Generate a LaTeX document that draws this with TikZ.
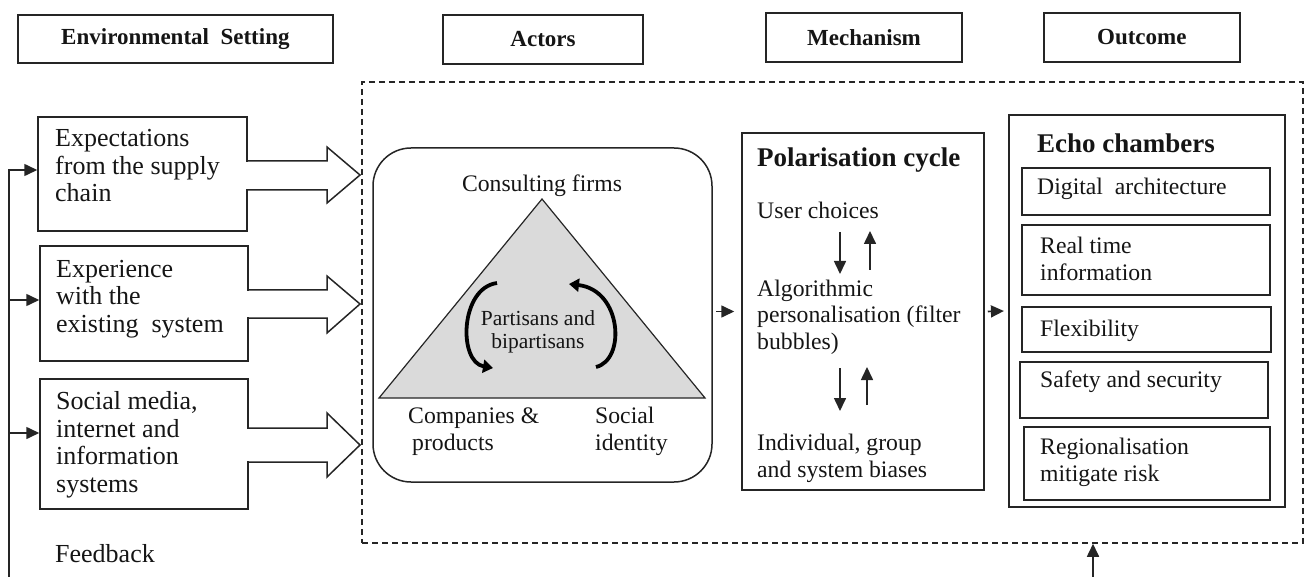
\documentclass[tikz,border=0pt]{standalone}
\usepackage{fontspec}
\setmainfont{Liberation Serif}
\usetikzlibrary{arrows.meta,calc}
\definecolor{ln}{HTML}{252525}
\definecolor{tx}{HTML}{151515}
\definecolor{tri}{HTML}{DADADA}
\begin{document}
\begin{tikzpicture}[x=1pt,y=-1pt,
  every node/.style={inner sep=0pt, text=tx},
  box/.style={draw=ln, line width=1.5pt, rectangle},
  hdr/.style={box, line width=1.8pt, font=\fontsize{23}{26}\selectfont\bfseries},
  ltext/.style={anchor=base west, align=left, font=\fontsize{26}{27.5}\selectfont},
  mtext/.style={anchor=base west, align=left, font=\fontsize{23.7}{26.5}\selectfont},
  ttl/.style={anchor=base west, font=\fontsize{27}{30}\selectfont\bfseries},
  arr/.style={draw=ln, line width=1.6pt, -{Triangle[length=13pt,width=12pt]}},
  blk/.style={draw=ln, line width=1.5pt, line join=miter},
  curv/.style={draw=black, line width=3.8pt, -{Triangle[length=10pt,width=13pt]}},
]
\useasboundingbox (0,0) rectangle (1306,577);

% headers
\node[hdr, minimum width=315pt, minimum height=48pt] (hEnv) at (175.4,39.3) {Environmental\ \ Setting};
\node[hdr, minimum width=200pt, minimum height=49pt] (hAct) at (543,39.5) {Actors};
\node[hdr, minimum width=196pt, minimum height=49pt] (hMec) at (864,37.8) {Mechanism};
\node[hdr, minimum width=196pt, minimum height=49pt] (hOut) at (1141.8,37.5) {Outcome};

% dashed frame
\node[draw=ln, line width=1.5pt, dash pattern=on 6pt off 4pt, minimum width=941pt, minimum height=461pt] (frame) at (832.5,312.5) {};

% left boxes
\node[box, minimum width=209pt, minimum height=114pt] (box1) at (142.5,174) {};
\node[box, minimum width=208pt, minimum height=115pt] (box2) at (144,303.5) {};
\node[box, minimum width=208pt, minimum height=130pt] (box3) at (144,444) {};

% block arrows
\fill[white] (245.5,161.8) rectangle (249.5,189.2);
\draw[blk] (247,161) -- (327,161) -- (327,147) -- (360,175) -- (327,203) -- (327,190) -- (247,190);
\fill[white] (246.5,290.8) rectangle (250.5,317.2);
\draw[blk] (248,290) -- (327,290) -- (327,276) -- (360,304) -- (327,333) -- (327,318) -- (248,318);
\fill[white] (246.5,428.8) rectangle (250.5,461.2);
\draw[blk] (248,428) -- (327,428) -- (327,413) -- (360,445) -- (327,477) -- (327,462) -- (248,462);

% (base anchor of a multi-line node = baseline of its last line)
\node[ltext] (t1) at (55,202) {Expectations\\from the supply\\chain};
\node[ltext] (t2) at (56,332) {Experience\\with the\\existing\ \ system};
\node[ltext] (t3) at (56,492) {Social media,\\internet and\\information\\systems};
\node[ltext] (fb) at (55,562) {Feedback};

% feedback line
\coordinate (fbot) at (9,580);
\coordinate (f1) at (9,170);
\coordinate (f2) at (9,300);
\coordinate (f3) at (9,433);
\draw[arr] (fbot) -- (f1) -- (f1 -| box1.west);
\draw[arr] (f2) -- (f2 -| box2.west);
\draw[arr] (f3) -- (f3 -| box3.west);

% actors
\node[box, rounded corners=38pt, minimum width=339pt, minimum height=334pt] (actors) at (542.5,315) {};
\coordinate (ta) at (542,199);
\coordinate (tl) at (379,398);
\coordinate (tr) at (705,398);
\draw[draw=ln, fill=tri, line width=1.2pt, line join=miter] (ta) -- (tl) -- (tr) -- cycle;
\node[mtext, anchor=base] (cf) at (542,192) {Consulting firms};
\node[anchor=base, align=center, font=\fontsize{21.5}{22.5}\selectfont] (pb) at (538,348) {Partisans and\\bipartisans};
\node[mtext] (cp) at (408,450) {Companies \&\\\hspace*{4pt}products};
\node[mtext] (si) at (595,450) {Social\\identity};
\draw[curv] (497,283) .. controls (460,288) and (458,362) .. (493,368);
\draw[curv] (596,367) .. controls (626,360) and (622,290) .. (569,284);

% mechanism
\node[box, minimum width=242pt, minimum height=357pt] (mech) at (863,311.5) {};
\node[ttl] (pc) at (757,167) {Polarisation cycle};
\node[mtext] (uc) at (757,219) {User choices};
\node[mtext] (alg) at (757,349) {Algorithmic\\personalisation (filter\\bubbles)};
\node[mtext] (ind) at (757,477) {Individual, group\\and system biases};
\coordinate (d1s) at (840,232); \coordinate (d1e) at (840,274);
\coordinate (u1s) at (870,270); \coordinate (u1e) at (870,231);
\coordinate (d2s) at (840,368); \coordinate (d2e) at (840,411);
\coordinate (u2s) at (867,405); \coordinate (u2e) at (867,367);
\draw[arr] (d1s) -- (d1e);
\draw[arr] (u1s) -- (u1e);
\draw[arr] (d2s) -- (d2e);
\draw[arr] (u2s) -- (u2e);

% outcome
\node[draw=ln, line width=2.2pt, minimum width=276pt, minimum height=392pt] (out) at (1147,311) {};
\node[ttl] (ec) at (1037,153) {Echo chambers};
\node[box, minimum width=248pt, minimum height=47pt] (o1) at (1146,191.5) {};
\node[box, minimum width=248pt, minimum height=70pt] (o2) at (1146,260) {};
\node[box, minimum width=249pt, minimum height=45pt] (o3) at (1146.5,329.5) {};
\node[box, minimum width=248pt, minimum height=56pt] (o4) at (1144,390) {};
\node[box, minimum width=246pt, minimum height=73pt] (o5) at (1147,463.5) {};
\node[mtext] (o1t) at (1037,195) {Digital\ \ architecture};
\node[mtext] (o2t) at (1040,280) {Real time\\information};
\node[mtext] (o3t) at (1040,336) {Flexibility};
\node[mtext] (o4t) at (1040,387) {Safety and security};
\node[mtext] (o5t) at (1040,481) {Regionalisation\\mitigate risk};

% connectors between stages
\draw[arr] ($(mech.west)+(-25,0)$) -- ($(mech.west)+(-7,0)$);
\draw[arr] ($(mech.east)+(3,0)$) -- ($(out.west)+(-4,0)$);
\coordinate (fb2) at (1093,580);
\draw[arr] (fb2) -- (fb2 |- frame.south);
\end{tikzpicture}
\end{document}
